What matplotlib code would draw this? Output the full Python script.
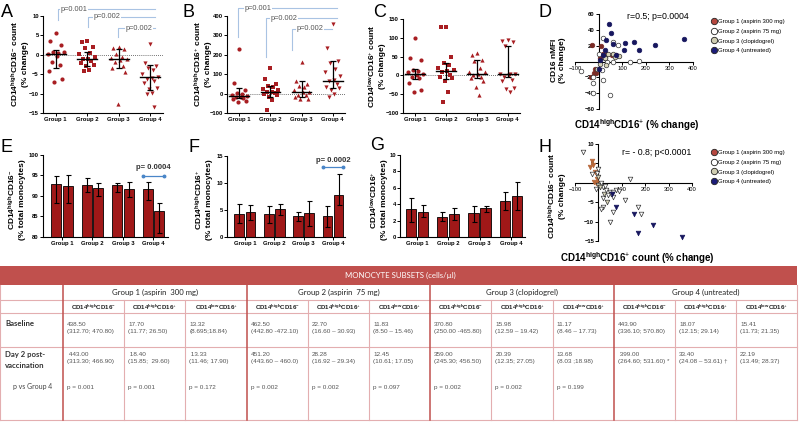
import numpy as np
import matplotlib
matplotlib.use('Agg')
import matplotlib.pyplot as plt
import matplotlib.transforms as mtransforms
from matplotlib.lines import Line2D
from matplotlib.patches import Rectangle

plt.rcParams['font.family'] = ['Liberation Sans', 'DejaVu Sans']
plt.rcParams['mathtext.fontset'] = 'custom'
plt.rcParams['mathtext.rm'] = 'Liberation Sans'
plt.rcParams['mathtext.bf'] = 'Liberation Sans:bold'
plt.rcParams['mathtext.it'] = 'Liberation Sans:italic'

# ---------------- data ----------------
groups = ['Group 1', 'Group 2', 'Group 3', 'Group 4']
legend_labels = ['Group 1 (aspirin 300 mg)', 'Group 2 (aspirin 75 mg)',
                 'Group 3 (clopidogrel)', 'Group 4 (untreated)']

# A: CD14high CD16- count, % change
a_vals = [[5.5, 3.6, 2.5, 0.8, 0.5, 0.3, 0.6, -0.2, -1.8, -2.5, -4.3, -6.3, -7.0],
          [3.6, 3.2, 2.0, 1.8, 0.5, 0.2, -0.5, -1.0, -1.2, -1.5, -2.0, -2.6, -3.0, -4.0, -4.1],
          [2.0, 1.8, 1.5, 0.3, -0.5, -0.8, -1.1, -1.4, -1.9, -2.9, -3.4, -4.4, -12.7],
          [2.9, -2.2, -2.8, -3.3, -4.0, -4.9, -5.6, -5.9, -6.3, -6.8, -7.3, -8.5, -8.8, -9.8, -10.0, -13.5]]
a_med = [0.3, -1.0, -1.1, -5.8]
a_q1 = [-3.4, -2.8, -3.4, -9.1]
a_q3 = [1.2, 0.7, 1.6, -2.6]

# B: CD14high CD16+ count, % change
b_vals = [[228, 55, 20, 3, 0, -5, -10, -15, -18, -25, -30, -40, -45],
          [130, 75, 50, 40, 32, 23, 16, 10, 8, 5, -3, -8, -15, -35, -85],
          [165, 66, 52, 40, 33, 20, 10, 6, -5, -8, -20, -27, -28],
          [360, 235, 170, 160, 125, 112, 90, 71, 65, 50, 35, 28, 20, 0, -15]]
b_med = [-10, 8, 10, 67]
b_q1 = [-22, -18, -18, 31]
b_q3 = [28, 40, 66, 168]

# C: CD14low CD16+ count, % change
c_vals = [[100, 47, 40, 15, 12, 8, 4, 2, -5, -8, -20, -40, -45],
          [130, 128, 48, 32, 28, 20, 15, 13, 10, 0, -5, -8, -15, -43, -72],
          [60, 53, 42, 38, 20, 10, 8, 4, 2, -5, -6, -16, -32, -52],
          [95, 92, 88, 78, 5, 4, 3, 2, -5, -12, -15, -33, -37, -45]]
c_med = [4, 13, 4, 4]
c_q1 = [-9, -9, -6, -5]
c_q3 = [17, 33, 40, 79]

# D: CD16 nMFI vs CD14high CD16+ (% change)
d_x = [[-28, 12, 35, 55, 75, 5, -15, -10, -20, -33, 20],
       [17, 62, 83, 3, 60, 135, 172, 35, -76, 17, -22, -25, -22, 48, 13, 28],
       [40, 8, 30, -5, 60, 25, 85, 70],
       [45, 52, 110, 152, 238, 360, 170, 108, 30, 25, 62, 75, 20, 5, 0]]
d_y = [[21, 20, 9, 8, 8, 4, -9, -15, -14, -20, 10],
       [30, 25, 21, 10, 0, 0, 1, -1, -12, -23, -19, -27, -40, -42, -11, 5],
       [10, -3, -5, -10, 10, 4, 7, 6],
       [48, 36, 23, 25, 21, 28, 14, 15, 27, 15, 22, 8, 8, 2, -10]]

# E/F/G: % of total monocytes, baseline and day 2 (median, lower, upper)
e_base = [92.9, 92.7, 92.8, 91.6]
e_base_lo = [88.3, 91.0, 91.0, 89.0]
e_base_hi = [94.9, 94.5, 93.2, 93.5]
e_day2 = [92.5, 92.0, 91.6, 86.3]
e_day2_lo = [88.3, 90.0, 89.8, 81.0]
e_day2_hi = [95.1, 93.1, 93.5, 88.3]

f_base = [4.3, 4.3, 3.9, 3.8]
f_base_lo = [2.6, 2.6, 2.9, 1.8]
f_base_hi = [6.2, 5.8, 4.7, 5.8]
f_day2 = [4.7, 5.1, 4.5, 7.8]
f_day2_lo = [3.2, 4.1, 2.1, 5.9]
f_day2_hi = [5.9, 6.1, 6.7, 11.6]

g_base = [3.4, 2.5, 2.9, 4.4]
g_base_lo = [1.8, 2.0, 1.8, 3.3]
g_base_hi = [4.7, 3.1, 3.8, 5.5]
g_day2 = [3.1, 2.8, 3.5, 5.0]
g_day2_lo = [2.4, 2.1, 3.1, 3.3]
g_day2_hi = [3.9, 3.5, 3.8, 6.7]

# H: CD14high CD16- count vs CD14high CD16+ count (% change)
h_x = [[-29, -22, -19, -12, -15, -35, -6],
       [-67, -29, -6, 13, 20, 34, 48, 62, 76, 41, 62, 20, 112, 133, 20, 9, 62, 48, 168, 180, 88, -10, 0, 30],
       [0, 8, 25, 55, -3, 35],
       [75, 150, 171, 235, 356, 60]]
h_y = [[5.7, 4.6, 0.3, 0.0, 2.9, 4.0, 1.0],
       [8, 2.2, 2.5, -0.1, -1.0, -1.9, -2.3, -2.3, -1.9, -3.1, -3.6, -4.0, -4.4, 0.9, -6.2, -6.8, -7.4, -10.0, -6.3, -8.0, -2.0, -1.5, 3.5, -0.8],
       [-0.5, -1.2, -2.8, -3.0, 1.5, -5.0],
       [-6.2, -8.0, -12.9, -10.9, -13.9, -3.0]]

# table
table_groups = ['Group 1 (aspirin  300 mg)', 'Group 2 (aspirin  75 mg)',
                'Group 3 (clopidogrel)', 'Group 4 (untreated)']
subsets = [r'CD14$^{\mathregular{high}}$CD16$^{-}$', r'CD14$^{\mathregular{high}}$CD16$^{+}$',
           r'CD14$^{\mathregular{low}}$CD16$^{+}$']
baseline = ['438.50\n(312.70; 470.80)', '17.70\n(11.77; 26.50)', '13.32\n(8.695;18.84)',
            '462.50\n(442.80 -472.10)', '22.70\n(16.60 – 30.93)', '11.83\n(8.50 – 15.46)',
            '370.80\n(250.00 -465.80)', '15.98\n(12.59 – 19.42)', '11.17\n(8.46 – 17.73)',
            '443.90\n(336.10; 570.80)', '18.07\n(12.15; 29.14)', '15.41\n(11.73; 21.35)']
day2 = [' 443.00\n(313.30; 466.90)', ' 18.40\n(15.85;  29.60)', ' 13.33\n(11.46; 17.90)',
        '451.20\n(443.60 – 460.0)', '28.28\n(16.92 – 29.34)', '12.45\n(10.61; 17.05)',
        '359.00\n(245.30; 456.50)', '20.39\n(12.35; 27.05)', '13.68\n(8.03 ;18.98)',
        ' 399.00\n(264.60; 531.60) *', '33.40\n(24.08 – 53.61) †', '22.19\n(13.49; 28.37)']
p_vs4 = ['p = 0.001', 'p = 0.001', 'p = 0.172', 'p = 0.002', 'p = 0.002', 'p = 0.097',
         'p = 0.002', 'p = 0.002', 'p = 0.199', '', '', '']

# ---------------- styling ----------------
RED = '#a81e22'
BAR = '#a01818'
BLUE = '#a9c3e3'
MARKERS = ['o', 's', '^', 'v']
SPREAD = [0.0, -0.17, 0.17, -0.08, 0.09, -0.25, 0.25, 0.04, -0.12, 0.13, -0.2, 0.2, -0.04, 0.06, -0.1, 0.11]
SC_FACE = ['#7a2a24', 'white', '#d8d4b8', '#16165e']
LEG_FACE = ['#b5473f', 'white', '#cfcdb1', '#1c1c78']
H_FACE = ['#b8683a', 'white', '#d8d4b8', '#16165e']

W, H = 800, 425
fig = plt.figure(figsize=(8, 4.25), dpi=100)
fig.patch.set_facecolor('white')

over = fig.add_axes([0, 0, 1, 1])
over.set_xlim(0, W)
over.set_ylim(H, 0)
over.axis('off')


def axes_px(left, top, right, bottom):
    return fig.add_axes([left / W, 1 - bottom / H, (right - left) / W, (bottom - top) / H])


def prism(ax):
    for s in ('top', 'right'):
        ax.spines[s].set_visible(False)
    for s in ('left', 'bottom'):
        ax.spines[s].set_linewidth(0.8)
    ax.tick_params(direction='out', length=2, width=0.7, labelsize=4.2, pad=1)
    for lab in ax.get_yticklabels():
        lab.set_fontweight('bold')


def dot_panel(ax, vals, med, q1, q3, ylim, yticks):
    for g in range(4):
        v = np.array(vals[g], dtype=float)
        off = np.resize(SPREAD, len(v))
        ax.scatter(g + off, v, marker=MARKERS[g], s=9, color=RED, linewidths=0, zorder=3)
        ax.errorbar(g, med[g], yerr=[[med[g] - q1[g]], [q3[g] - med[g]]], fmt='none',
                    ecolor='black', elinewidth=0.9, capsize=2.3, capthick=0.9, zorder=4)
        ax.plot([g - 0.32, g + 0.32], [med[g], med[g]], color='black', lw=1.0, zorder=4)
    ax.axhline(0, color='#444', lw=0.6, ls=(0, (1, 1.5)), zorder=1)
    ax.set_xlim(-0.4, 3.4)
    ax.set_ylim(*ylim)
    ax.set_yticks(yticks)
    ax.set_xticks(range(4))
    ax.set_xticklabels(groups, fontweight='bold')
    prism(ax)


def brackets(ax, specs):
    tr = mtransforms.blended_transform_factory(ax.transData, ax.transAxes)
    for x0, x1, ytop, ybot, xt, label in specs:
        ax.plot([x0, x0, x1], [ybot, ytop, ytop], color=BLUE, lw=0.8, transform=tr,
                clip_on=False, zorder=5)
        ax.text(xt, ytop, label, transform=tr, fontsize=5.3, color='#555', va='center',
                ha='left', zorder=6, bbox=dict(fc='white', ec='none', pad=0.4))


def bar_panel(ax, base, blo, bhi, d2, dlo, dhi, ylim, yticks, xlim):
    x = np.arange(4)
    for xs, h, lo, hi in ((x - 0.19, base, blo, bhi), (x + 0.19, d2, dlo, dhi)):
        h = np.array(h)
        ax.bar(xs, h, width=0.33, color=BAR, edgecolor='black', lw=0.6, zorder=2)
        ax.errorbar(xs, h, yerr=[h - np.array(lo), np.array(hi) - h], fmt='none',
                    ecolor='black', elinewidth=0.8, capsize=1.8, capthick=0.8, zorder=3)
    ax.set_xlim(*xlim)
    ax.set_ylim(*ylim)
    ax.set_yticks(yticks)
    ax.set_xticks(x)
    ax.set_xticklabels(groups, fontweight='bold')
    prism(ax)


def pair_sig(ax, yline, ytext, label):
    ax.plot([2.65, 3.35], [yline, yline], color='#4a86c8', lw=0.9, marker='o', ms=1.8,
            clip_on=False, zorder=5)
    ax.text(3.0, ytext, label, ha='center', va='center', fontsize=5.5, color='#333',
            fontweight='bold', clip_on=False)


def scatter_panel(ax, xs, ys, marker, faces, xlim, ylim, yticks):
    for g in range(4):
        ec = '#333' if faces[g] in ('white', '#d8d4b8') else faces[g]
        ax.scatter(xs[g], ys[g], marker=marker, s=11, facecolor=faces[g], edgecolor=ec,
                   linewidths=0.5, zorder=3)
    ax.spines['left'].set_position(('data', 0))
    ax.spines['bottom'].set_position(('data', 0))
    ax.set_xlim(*xlim)
    ax.set_ylim(*ylim)
    ax.set_xticks([-100, 100, 200, 300, 400])
    ax.set_yticks(yticks)
    prism(ax)


def vlabel(x, y, text, size=6):
    over.text(x, y, text, rotation=90, ha='center', va='center', fontsize=size,
              fontweight='bold', multialignment='center', linespacing=1.2)


# ---------------- A, B, C ----------------
axA = axes_px(43, 16, 163, 113)
dot_panel(axA, a_vals, a_med, a_q1, a_q3, (-15, 10), [-15, -10, -5, 0, 5, 10])
brackets(axA, [(0.06, 3.15, 1.072, 0.959, 0.17, 'p=0.001'),
               (1.04, 3.15, 0.99, 0.887, 1.2, 'p=0.002'),
               (1.99, 3.15, 0.876, 0.784, 2.2, 'p=0.002')])

axB = axes_px(227, 16, 345, 113)
dot_panel(axB, b_vals, b_med, b_q1, b_q3, (-100, 400), [-100, 0, 100, 200, 300, 400])
brackets(axB, [(-0.06, 3.13, 1.082, 0.784, 0.16, 'p=0.001'),
               (0.84, 3.13, 0.979, 0.577, 1.0, 'p=0.002'),
               (1.68, 2.97, 0.866, 0.649, 1.85, 'p=0.002')])

axC = axes_px(403, 19, 520, 113)
dot_panel(axC, c_vals, c_med, c_q1, c_q3, (-100, 150), [-100, -50, 0, 50, 100, 150])

# ---------------- D ----------------
axD = axes_px(575, 14, 693, 109)
scatter_panel(axD, d_x, d_y, 'o', SC_FACE, (-100, 400), (-60, 60), [-60, -40, -20, 20, 40, 60])
axD.text(252, 57, 'r=0.5; p=0.0004', fontsize=6.3, ha='center', va='center')

# ---------------- E, F, G ----------------
axE = axes_px(43, 155, 168, 237)
bar_panel(axE, e_base, e_base_lo, e_base_hi, e_day2, e_day2_lo, e_day2_hi,
          (80, 100), [80, 85, 90, 95, 100], (-0.62, 3.48))
pair_sig(axE, 94.9, 96.9, 'p= 0.0004')

axF = axes_px(227, 156, 345, 237)
bar_panel(axF, f_base, f_base_lo, f_base_hi, f_day2, f_day2_lo, f_day2_hi,
          (0, 15), [0, 5, 10, 15], (-0.61, 3.41))
pair_sig(axF, 13.0, 14.2, 'p= 0.0002')

axG = axes_px(400, 155, 525, 237)
bar_panel(axG, g_base, g_base_lo, g_base_hi, g_day2, g_day2_lo, g_day2_hi,
          (0, 10), [0, 2, 4, 6, 8, 10], (-0.54, 3.45))

# ---------------- H ----------------
axH = axes_px(575, 144, 692, 241)
scatter_panel(axH, h_x, h_y, 'v', H_FACE, (-100, 400), (-15, 10), [-15, -10, -5, 5, 10])
axH.text(248, 7.7, 'r= - 0.8; p<0.0001', fontsize=6.3, ha='center', va='center')

# legends for D and H
handles = [Line2D([], [], ls='none', marker='o', ms=4.6, mfc=LEG_FACE[i], mec='#222', mew=0.6)
           for i in range(4)]
for ytop in (19, 150):
    fig.legend(handles, legend_labels, loc='upper left', bbox_to_anchor=(711 / W, 1 - ytop / H),
               frameon=False, fontsize=4.3, handletextpad=0.1, labelspacing=0.75,
               handlelength=1.0, borderpad=0, borderaxespad=0)

# axis labels
vlabel(19, 64, 'CD14$^{\\mathregular{high}}$CD16$^{-}$ count\n(% change)')
vlabel(202, 64, 'CD14$^{\\mathregular{high}}$CD16$^{+}$ count\n(% change)')
vlabel(376, 66, 'CD14$^{\\mathregular{low}}$CD16$^{+}$ count\n(% change)')
vlabel(558, 60, 'CD16 nMFI\n(% change)')
vlabel(16, 200, 'CD14$^{\\mathregular{high}}$CD16$^{-}$\n(% total monocytes)')
vlabel(203, 200, 'CD14$^{\\mathregular{high}}$CD16$^{+}$\n(% total monocytes)')
vlabel(378, 200, 'CD14$^{\\mathregular{low}}$CD16$^{+}$\n(% total monocytes)')
vlabel(556, 196, 'CD14$^{\\mathregular{high}}$CD16$^{-}$ count\n(% change)')
over.text(637, 125, 'CD14$^{\\mathregular{high}}$CD16$^{+}$ (% change)', ha='center',
          va='center', fontsize=7, fontweight='bold')
over.text(637, 258, 'CD14$^{\\mathregular{high}}$CD16$^{+}$ count (% change)', ha='center',
          va='center', fontsize=7, fontweight='bold')

# panel letters
for letter, x, y in (('A', 7, 12), ('B', 188, 12), ('C', 380, 12), ('D', 545, 12),
                     ('E', 7, 148), ('F', 194, 148), ('G', 377, 146), ('H', 545, 148)):
    over.text(x, y, letter, fontsize=13, ha='center', va='center')

# ---------------- table ----------------
LINE = '#e3aeb0'
DARK = '#c0504d'
over.add_patch(Rectangle((0, 266), 797, 19, facecolor='#c0504d', edgecolor='none'))
over.text(400, 275.5, 'MONOCYTE SUBSETS (cells/µl)', color='white', fontsize=5.6,
          ha='center', va='center', family=['Lato', 'DejaVu Sans'])

cols = [63 + 61.2 * i for i in range(13)]
for y in (300, 313, 347, 420):
    over.plot([0, 797], [y, y], color=LINE, lw=0.8)
over.plot([0, 0], [285, 420], color=LINE, lw=0.8)
over.plot([797, 797], [285, 420], color=LINE, lw=0.8)
for i, x in enumerate(cols[:-1]):
    if i % 3 == 0:
        over.plot([x, x], [285, 420], color=DARK, lw=1.1)
    else:
        over.plot([x, x], [300, 420], color=LINE, lw=0.8)

for gi, name in enumerate(table_groups):
    cx = (cols[3 * gi] + cols[3 * gi + 3]) / 2
    over.text(cx, 292.5, name, fontsize=5.6, ha='center', va='center', color='#222',
              family=['Lato', 'DejaVu Sans'])
for ci in range(12):
    cx = (cols[ci] + cols[ci + 1]) / 2
    over.text(cx, 307, subsets[ci % 3], fontsize=4.4, ha='center', va='center',
              fontweight='bold', color='#222')
    over.text(cols[ci] + 4, 327.5, baseline[ci], fontsize=4.6, ha='left', va='center',
              color='#555', linespacing=1.5)
    over.text(cols[ci] + 4, 358.5, day2[ci], fontsize=4.6, ha='left', va='center',
              color='#555', linespacing=1.5)
    if p_vs4[ci]:
        over.text(cols[ci] + 4, 387, p_vs4[ci], fontsize=4.6, ha='left', va='center',
                  color='#555')

over.text(5, 323, 'Baseline', fontsize=5.6, fontweight='bold', ha='left', va='center',
          color='#333', family=['Lato', 'DejaVu Sans'])
over.text(5, 360, 'Day 2 post-\nvaccination', fontsize=5.6, fontweight='bold', ha='left',
          va='center', color='#333', linespacing=1.6, family=['Lato', 'DejaVu Sans'])
over.text(13, 387, 'p vs Group 4', fontsize=5, ha='left', va='center', color='#444',
          family=['Lato', 'DejaVu Sans'])

fig.savefig('out.png', dpi=100, facecolor='white')
